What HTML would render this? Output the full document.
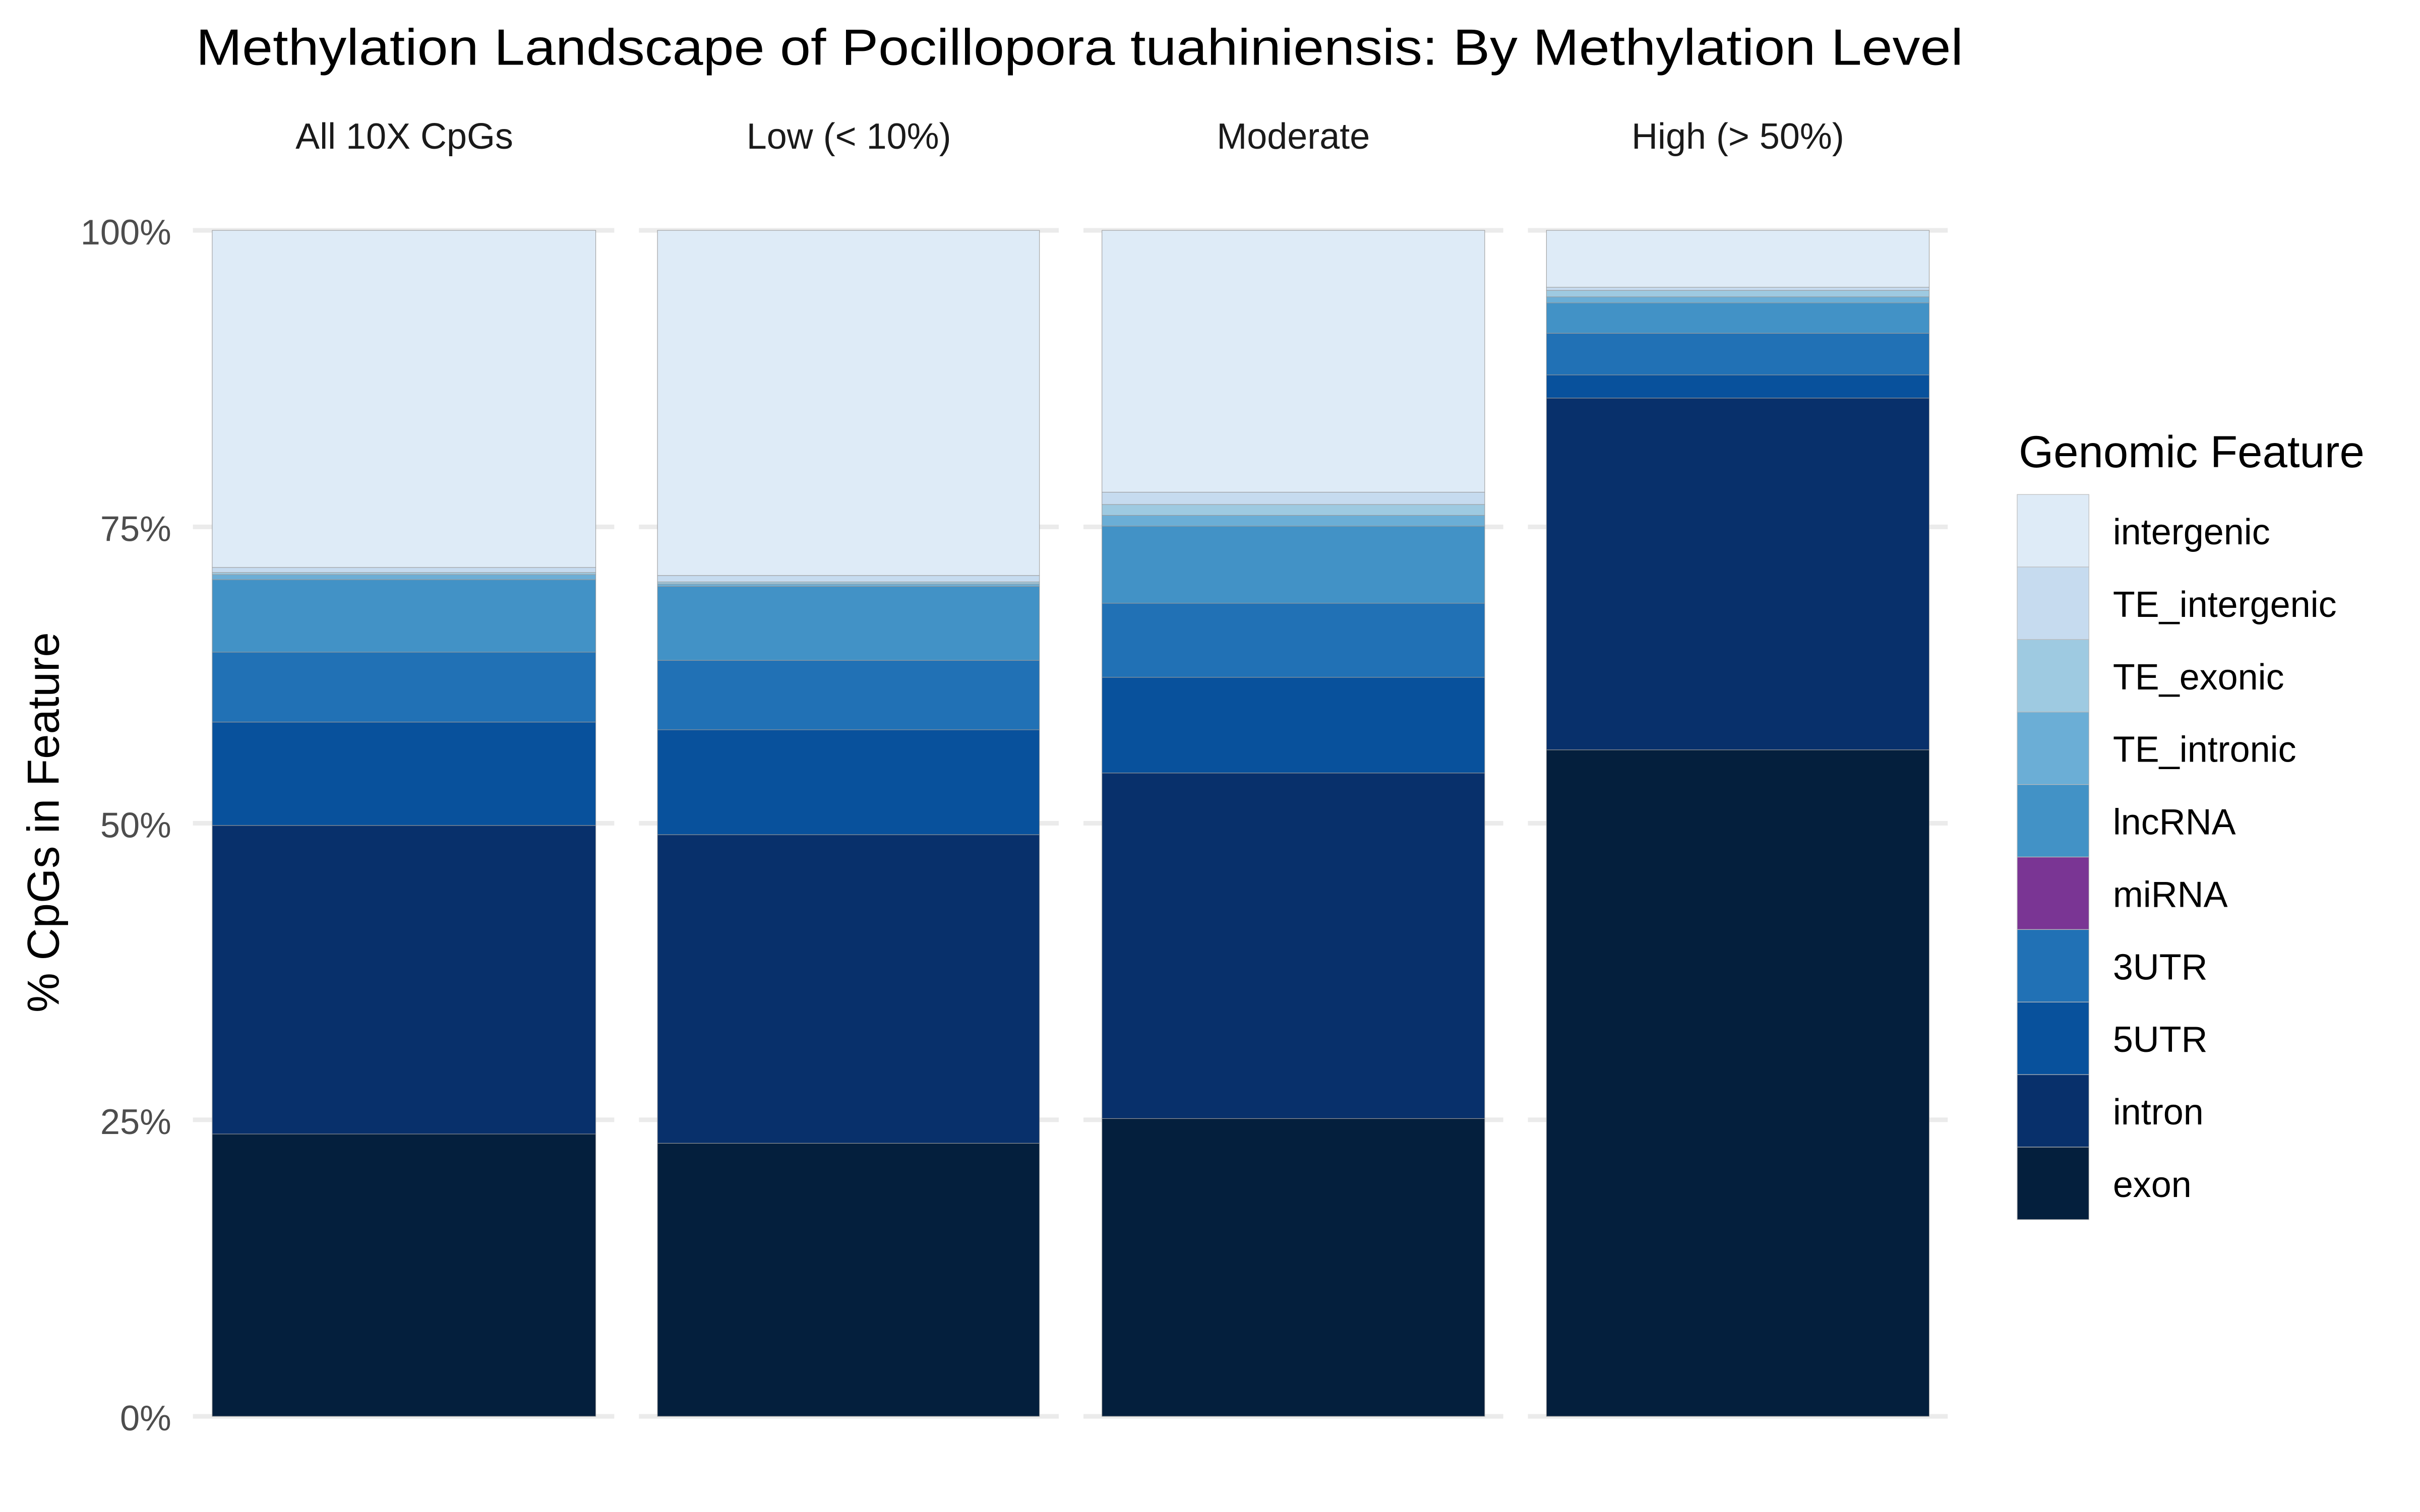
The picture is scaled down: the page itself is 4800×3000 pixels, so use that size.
<!DOCTYPE html>
<html><head><meta charset="utf-8"><style>html,body{margin:0;padding:0;background:#fff}svg{display:block}</style></head>
<body>
<svg xmlns="http://www.w3.org/2000/svg" width="4800" height="3000" viewBox="0 0 1568 980" font-family="Liberation Sans, Arial, sans-serif">
<rect width="1568" height="980" fill="#fff"/>
<text x="127" y="42" font-size="33" fill="#000" textLength="1145" lengthAdjust="spacingAndGlyphs">Methylation Landscape of Pocillopora tuahiniensis: By Methylation Level</text>
<g font-size="23.5" fill="#1a1a1a" text-anchor="middle">
<text x="262" y="96.4">All 10X CpGs</text>
<text x="550" y="96.4">Low (&lt; 10%)</text>
<text x="838" y="96.4">Moderate</text>
<text x="1126" y="96.4">High (&gt; 50%)</text>
</g>
<g stroke="#ebebeb" stroke-width="3">
<path d="M125 918H398M414 918H686M702 918H974M990 918H1262"/>
<path d="M125 725.8H398M414 725.8H686M702 725.8H974M990 725.8H1262"/>
<path d="M125 533.6H398M414 533.6H686M702 533.6H974M990 533.6H1262"/>
<path d="M125 341.5H398M414 341.5H686M702 341.5H974M990 341.5H1262"/>
<path d="M125 149.3H398M414 149.3H686M702 149.3H974M990 149.3H1262"/>
</g>
<g font-size="23" fill="#4d4d4d" text-anchor="end">
<text x="111" y="158.5">100%</text>
<text x="111" y="350.7">75%</text>
<text x="111" y="542.8">50%</text>
<text x="111" y="735">25%</text>
<text x="111" y="927">0%</text>
</g>
<text transform="translate(38,533) rotate(-90)" font-size="29" fill="#000" text-anchor="middle">% CpGs in Feature</text>
<g stroke="#9a9a9a" stroke-width="0.35">
<rect x="137.5" y="735" width="248.5" height="183" fill="#041f3d"/>
<rect x="137.5" y="535" width="248.5" height="200" fill="#08306b"/>
<rect x="137.5" y="468" width="248.5" height="67" fill="#08519c"/>
<rect x="137.5" y="422.7" width="248.5" height="45.3" fill="#2171b5"/>
<rect x="137.5" y="375.7" width="248.5" height="47" fill="#4292c6"/>
<rect x="137.5" y="372.4" width="248.5" height="3.3" fill="#6baed6"/>
<rect x="137.5" y="371.1" width="248.5" height="1.3" fill="#9ecae1"/>
<rect x="137.5" y="367.8" width="248.5" height="3.3" fill="#c6dbef"/>
<rect x="137.5" y="149.3" width="248.5" height="218.5" fill="#deebf7"/>
<rect x="426" y="741" width="247.5" height="177" fill="#041f3d"/>
<rect x="426" y="541" width="247.5" height="200" fill="#08306b"/>
<rect x="426" y="473" width="247.5" height="68" fill="#08519c"/>
<rect x="426" y="428" width="247.5" height="45" fill="#2171b5"/>
<rect x="426" y="380" width="247.5" height="48" fill="#4292c6"/>
<rect x="426" y="378.5" width="247.5" height="1.5" fill="#6baed6"/>
<rect x="426" y="377.2" width="247.5" height="1.3" fill="#9ecae1"/>
<rect x="426" y="373" width="247.5" height="4.2" fill="#c6dbef"/>
<rect x="426" y="149.3" width="247.5" height="223.7" fill="#deebf7"/>
<rect x="714" y="725" width="248" height="193" fill="#041f3d"/>
<rect x="714" y="501" width="248" height="224" fill="#08306b"/>
<rect x="714" y="439" width="248" height="62" fill="#08519c"/>
<rect x="714" y="391" width="248" height="48" fill="#2171b5"/>
<rect x="714" y="341" width="248" height="50" fill="#4292c6"/>
<rect x="714" y="334" width="248" height="7" fill="#6baed6"/>
<rect x="714" y="327" width="248" height="7" fill="#9ecae1"/>
<rect x="714" y="319" width="248" height="8" fill="#c6dbef"/>
<rect x="714" y="149.3" width="248" height="169.7" fill="#deebf7"/>
<rect x="1002" y="486" width="248" height="432" fill="#041f3d"/>
<rect x="1002" y="258" width="248" height="228" fill="#08306b"/>
<rect x="1002" y="243" width="248" height="15" fill="#08519c"/>
<rect x="1002" y="216" width="248" height="27" fill="#2171b5"/>
<rect x="1002" y="196.3" width="248" height="19.7" fill="#4292c6"/>
<rect x="1002" y="192.4" width="248" height="3.9" fill="#6baed6"/>
<rect x="1002" y="188.2" width="248" height="4.2" fill="#9ecae1"/>
<rect x="1002" y="186.2" width="248" height="2" fill="#c6dbef"/>
<rect x="1002" y="149.3" width="248" height="36.9" fill="#deebf7"/>
</g>
<text x="1308" y="302.8" font-size="29" fill="#000">Genomic Feature</text>
<g stroke="#bcbcbc" stroke-width="0.4">
<rect x="1307" y="320.5" width="46.5" height="47" fill="#deebf7"/>
<rect x="1307" y="367.5" width="46.5" height="47" fill="#c6dbef"/>
<rect x="1307" y="414.5" width="46.5" height="47" fill="#9ecae1"/>
<rect x="1307" y="461.5" width="46.5" height="47" fill="#6baed6"/>
<rect x="1307" y="508.5" width="46.5" height="47" fill="#4292c6"/>
<rect x="1307" y="555.5" width="46.5" height="47" fill="#7a3594"/>
<rect x="1307" y="602.5" width="46.5" height="47" fill="#2171b5"/>
<rect x="1307" y="649.5" width="46.5" height="47" fill="#08519c"/>
<rect x="1307" y="696.5" width="46.5" height="47" fill="#08306b"/>
<rect x="1307" y="743.5" width="46.5" height="47" fill="#041f3d"/>
</g>
<g font-size="23.5" fill="#000">
<text x="1369" y="352.8">intergenic</text>
<text x="1369" y="399.8">TE_intergenic</text>
<text x="1369" y="446.8">TE_exonic</text>
<text x="1369" y="493.8">TE_intronic</text>
<text x="1369" y="540.8">lncRNA</text>
<text x="1369" y="587.8">miRNA</text>
<text x="1369" y="634.8">3UTR</text>
<text x="1369" y="681.8">5UTR</text>
<text x="1369" y="728.8">intron</text>
<text x="1369" y="775.8">exon</text>
</g>
</svg>
</body></html>
